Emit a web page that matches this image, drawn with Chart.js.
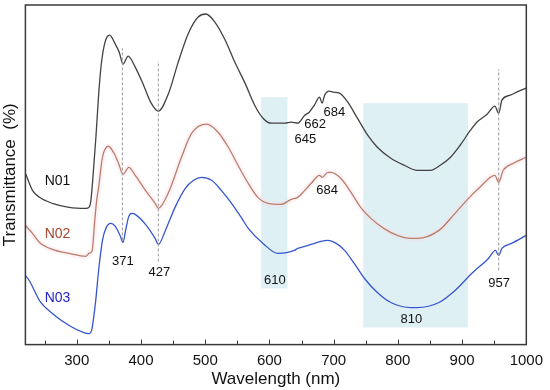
<!DOCTYPE html>
<html>
<head>
<meta charset="utf-8">
<title>Transmittance spectra</title>
<script src="https://cdn.jsdelivr.net/npm/chart.js@4"></script>
<style>
    html, body { margin: 0; padding: 0; background: #fff; }
    #wrap { width: 550px; height: 390px; }
</style>
</head>
<body>
<div id="wrap"><canvas id="chart"></canvas></div>
<script>
// 光譜資料 [波長 nm, 相對透過率]
const n01 = [[220,171],[231,154],[242,147],[262,141],[288,137],[314,136],[319,137],[322,144],[326,174],[330,209],[334,249],[338,279],[344,302],[351,309],[360,300],[366,292],[372,280],[380,288],[391,277],[404,259],[415,242],[427,233],[443,251],[458,282],[474,311],[489,327],[501,330],[515,322],[531,304],[546,282],[562,261],[577,239],[590,226],[603,221],[624,221],[634,222],[644,221],[655,229],[662,232],[670,239],[678,247],[682,241],[686,249],[693,253],[699,252],[709,251],[722,242],[737,226],[753,209],[768,197],[789,186],[810,179],[830,174],[851,174],[866,179],[882,187],[897,199],[913,214],[923,222],[939,230],[951,238],[957,231],[962,244],[975,249],[985,252],[1000,256]];
const n02 = [[220,119],[231,111],[242,102],[262,95],[288,91],[314,88],[319,91],[324,94],[328,124],[331,144],[334,157],[340,187],[349,198],[358,191],[365,181],[372,170],[381,177],[391,169],[407,154],[422,141],[427,136],[443,152],[463,187],[479,211],[502,220],[520,212],[536,197],[551,179],[567,161],[582,147],[598,141],[618,140],[634,145],[644,147],[655,154],[665,161],[678,169],[682,167],[691,172],[696,172],[711,166],[727,152],[742,137],[758,126],[778,116],[799,109],[820,106],[830,106],[864,114],[889,131],[910,146],[926,156],[951,169],[957,162],[964,174],[980,181],[1000,187]];
const n03 = [[220,69],[226,64],[242,44],[262,31],[288,19],[311,12],[319,11],[323,14],[329,41],[334,74],[340,104],[346,117],[353,121],[360,118],[368,108],[372,102],[376,114],[381,128],[386,131],[391,130],[407,120],[422,106],[427,100],[438,114],[453,137],[469,156],[482,164],[494,167],[510,164],[525,154],[541,141],[556,127],[567,116],[590,101],[613,91],[639,94],[644,96],[655,98],[670,101],[680,103],[691,104],[704,101],[717,94],[732,81],[748,66],[768,52],[789,42],[820,37],[830,37],[864,42],[889,54],[915,71],[941,86],[952,94],[957,89],[962,96],[977,101],[1000,109]];

// 刻度
const majorTicks = [300, 400, 500, 600, 700, 800, 900, 1000];
const minorTicks = [250, 350, 450, 550, 650, 750, 850, 950];

// 吸收帶區塊 [起始波長, 結束波長, 下緣, 上緣]
const bands = [[587, 628, 56, 247], [746, 909, 17, 241]];
// 虛線標記 [波長, 下緣, 上緣]
const markLines = [[371, 104, 296], [427, 83, 283], [957, 74, 275]];
// 峰值標籤 [文字, 波長, 高度]
const peakLabels = [['371', 371.7, 83], ['427', 428.5, 72], ['610', 608.6, 64], ['810', 821, 25], ['957', 957.6, 61],
    ['684', 701, 232], ['662', 671, 220], ['645', 656, 205], ['684', 689.7, 154]];
// 樣品名稱 [文字, 波長, 高度, 顏色]
const seriesLabels = [['N01', 270, 163, '#111111'], ['N02', 270, 110, '#a4472f'], ['N03', 270, 46, '#2424c8']];

const FONT = '"Liberation Sans", Arial, sans-serif';
const toXY = arr => arr.map(([x, y]) => ({ x, y }));

const decorPlugin = {
    id: 'decor',
    beforeDatasetsDraw(chart) {
        const { ctx, scales: { x, y } } = chart;
        ctx.save();
        ctx.fillStyle = '#dff0f5';
        bands.forEach(([x0, x1, y0, y1]) => {
            const l = x.getPixelForValue(x0), r = x.getPixelForValue(x1);
            const t = y.getPixelForValue(y1), b = y.getPixelForValue(y0);
            ctx.fillRect(l, t, r - l, b - t);
        });
        ctx.restore();
    },
    afterDatasetsDraw(chart) {
        const { ctx, scales: { x, y } } = chart;
        ctx.save();
        ctx.font = `13px ${FONT}`;
        ctx.textAlign = 'center';
        ctx.textBaseline = 'middle';
        ctx.fillStyle = '#111';
        peakLabels.forEach(([t, wl, h]) => ctx.fillText(t, x.getPixelForValue(wl), y.getPixelForValue(h)));
        ctx.font = `14px ${FONT}`;
        seriesLabels.forEach(([t, wl, h, c]) => {
            ctx.fillStyle = c;
            ctx.fillText(t, x.getPixelForValue(wl), y.getPixelForValue(h));
        });
        ctx.restore();
    },
    afterDraw(chart) {
        const { ctx, chartArea: a, scales: { x } } = chart;
        ctx.save();
        ctx.strokeStyle = '#3a3a3a';
        ctx.lineWidth = 1.5;
        ctx.strokeRect(a.left, a.top, a.right - a.left, a.bottom - a.top);
        // 朝內的刻度線
        ctx.lineWidth = 1;
        majorTicks.concat(minorTicks).forEach(v => {
            const px = Math.round(x.getPixelForValue(v)) + 0.5;
            const len = majorTicks.includes(v) ? 5 : 4;
            ctx.beginPath();
            ctx.moveTo(px, a.bottom);
            ctx.lineTo(px, a.bottom - len);
            ctx.stroke();
        });
        ctx.restore();
    }
};

const lineBase = { fill: false, pointRadius: 0, borderWidth: 1.3, cubicInterpolationMode: 'monotone' };

new Chart(document.getElementById('chart'), {
    type: 'line',
    data: {
        datasets: [
            ...markLines.map(([wl, lo, hi]) => ({
                data: [{ x: wl, y: lo }, { x: wl, y: hi }],
                borderColor: '#9a9a9a', borderWidth: 1, borderDash: [3, 2], pointRadius: 0, fill: false
            })),
            { ...lineBase, label: 'N02 halo', data: toXY(n02), borderColor: 'rgba(252,210,222,0.25)', borderWidth: 6 },
            { ...lineBase, label: 'N01', data: toXY(n01), borderColor: '#424242' },
            { ...lineBase, label: 'N02', data: toXY(n02), borderColor: '#a5603f' },
            { ...lineBase, label: 'N03', data: toXY(n03), borderColor: '#3556d0' }
        ]
    },
    options: {
        responsive: true,
        maintainAspectRatio: false,
        animation: false,
        layout: { padding: { top: 5, right: 18, left: 0, bottom: 0 } },
        plugins: { legend: { display: false }, tooltip: { enabled: false } },
        scales: {
            x: {
                type: 'linear', min: 220, max: 1000,
                afterBuildTicks: s => {
                    s.ticks = majorTicks.concat(minorTicks).sort((a, b) => a - b).map(v => ({ value: v }));
                },
                ticks: {
                    autoSkip: false, maxRotation: 0, padding: 7, color: '#111',
                    font: { size: 15, family: FONT },
                    callback: v => majorTicks.includes(v) ? String(v) : ''
                },
                grid: { display: false, drawTicks: false },
                border: { display: false },
                title: { display: true, text: 'Wavelength (nm)', color: '#111', font: { size: 17, family: FONT }, padding: { top: -7, bottom: 0 } }
            },
            y: {
                min: 0, max: 339,
                ticks: { display: false },
                grid: { display: false, drawTicks: false },
                border: { display: false },
                title: { display: true, text: 'Transmittance  (%)', color: '#111', font: { size: 17, family: FONT }, padding: { top: 0, bottom: 5 } }
            }
        }
    },
    plugins: [decorPlugin]
});
</script>
</body>
</html>
